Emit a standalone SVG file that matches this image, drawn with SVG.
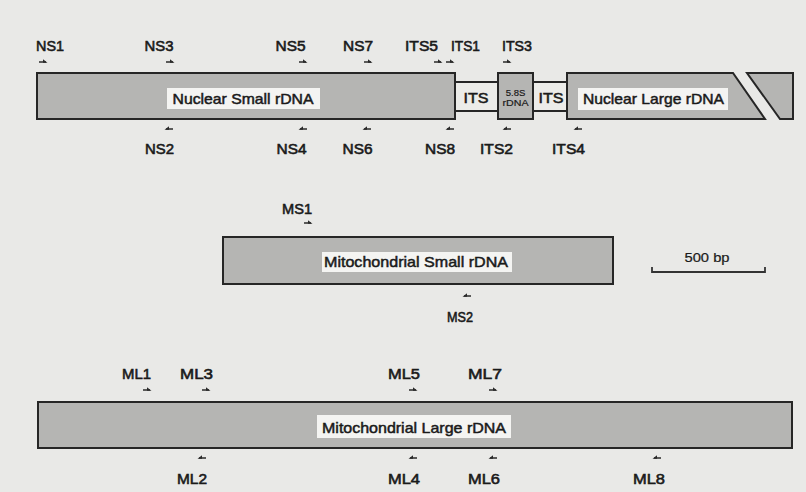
<svg xmlns="http://www.w3.org/2000/svg" width="806" height="492" viewBox="0 0 806 492">
  <defs>
    <style>
      .bg { fill: #e9e9e7; }
      .box { fill: #b5b5b3; stroke: #262626; stroke-width: 2; }
      .strip { fill: #ecece9; stroke: #262626; stroke-width: 2; }
      .lblbg { fill: #f4f4f2; }
      .lbl { font-family: "Liberation Sans", Arial, sans-serif; font-size: 15px; fill: #1a1a1a; text-anchor: middle; stroke: #1a1a1a; stroke-width: 0.5; }
      .pr { font-family: "Liberation Sans", Arial, sans-serif; font-size: 15px; fill: #1a1a1a; text-anchor: middle; stroke: #1a1a1a; stroke-width: 0.6; }
      .small { font-family: "Liberation Sans", Arial, sans-serif; font-size: 9.5px; fill: #1a1a1a; text-anchor: middle; stroke: #1a1a1a; stroke-width: 0.2; }
      .arr { stroke: #2a2a2a; stroke-width: 1.5; fill: none; }
      .head { fill: #2a2a2a; }
      .scale { stroke: #333; stroke-width: 1.8; fill: none; }
    </style>
    <g id="fwd">
      <line class="arr" x1="-4" y1="0" x2="3" y2="0"/>
      <polygon class="head" points="0,-2.8 4.5,0.8 0,0.8"/>
    </g>
    <g id="rev">
      <line class="arr" x1="-3" y1="0" x2="4" y2="0"/>
      <polygon class="head" points="0,-2.8 -4.5,0.8 0,0.8"/>
    </g>
  </defs>

  <rect class="bg" x="0" y="0" width="806" height="492"/>

  <!-- Nuclear rDNA -->
  <g id="nuclear-small">
    <rect class="box" x="37" y="73" width="418" height="46"/>
    <rect class="lblbg" x="167" y="88" width="153" height="21"/>
    <text class="lbl" x="243" y="103.5" textLength="141" lengthAdjust="spacingAndGlyphs">Nuclear Small rDNA</text>
  </g>
  <g id="its-1">
    <rect class="strip" x="455" y="82" width="43" height="29"/>
    <text class="lbl" x="476" y="102.5" style="font-size:14px" textLength="25" lengthAdjust="spacingAndGlyphs">ITS</text>
  </g>
  <g id="rdna-58s">
    <rect class="box" x="498" y="73" width="35" height="46"/>
    <text class="small" x="515.5" y="95.5">5.8S</text>
    <text class="small" x="515.5" y="105.5" textLength="26" lengthAdjust="spacingAndGlyphs">rDNA</text>
  </g>
  <g id="its-2">
    <rect class="strip" x="533" y="82" width="34" height="29"/>
    <text class="lbl" x="551" y="102.5" style="font-size:14px" textLength="25" lengthAdjust="spacingAndGlyphs">ITS</text>
  </g>
  <g id="nuclear-large">
    <polygon class="box" points="567,73 733,73 765,119 567,119"/>
    <polygon class="box" points="747,73 793,73 793,119 780,119"/>
    <rect class="lblbg" x="578" y="88" width="150" height="22"/>
    <text class="lbl" x="653.5" y="103.5" textLength="141" lengthAdjust="spacingAndGlyphs">Nuclear Large rDNA</text>
  </g>

  <!-- Mitochondrial small -->
  <g id="mito-small">
    <rect class="box" x="223" y="237" width="390" height="47"/>
    <rect class="lblbg" x="322" y="252" width="190" height="20"/>
    <text class="lbl" x="416" y="267" textLength="184" lengthAdjust="spacingAndGlyphs">Mitochondrial Small rDNA</text>
  </g>

  <!-- Mitochondrial large -->
  <g id="mito-large">
    <rect class="box" x="38" y="402" width="754" height="46"/>
    <rect class="lblbg" x="317" y="415" width="194" height="23"/>
    <text class="lbl" x="414" y="433" textLength="184" lengthAdjust="spacingAndGlyphs">Mitochondrial Large rDNA</text>
  </g>

  <!-- Scale bar -->
  <g id="scale-bar">
    <path class="scale" d="M652,267 V272 H765 V267"/>
    <text class="small" x="707" y="262" style="font-size:12px" textLength="45" lengthAdjust="spacingAndGlyphs">500 bp</text>
  </g>

  <!-- Primer arrows -->
  <g id="connectors">
    <use href="#fwd" x="43" y="62"/>
    <use href="#fwd" x="170" y="62"/>
    <use href="#fwd" x="303" y="62"/>
    <use href="#fwd" x="368" y="62"/>
    <use href="#fwd" x="438" y="62"/>
    <use href="#fwd" x="450" y="62"/>
    <use href="#fwd" x="507" y="62"/>
    <use href="#rev" x="169" y="129"/>
    <use href="#rev" x="303" y="129"/>
    <use href="#rev" x="367" y="129"/>
    <use href="#rev" x="450" y="129"/>
    <use href="#rev" x="507" y="129"/>
    <use href="#rev" x="578" y="129"/>
    <use href="#fwd" x="308" y="223"/>
    <use href="#rev" x="467" y="296"/>
    <use href="#fwd" x="147" y="390"/>
    <use href="#fwd" x="206" y="390"/>
    <use href="#fwd" x="413" y="390"/>
    <use href="#fwd" x="493" y="390"/>
    <use href="#rev" x="202" y="458"/>
    <use href="#rev" x="413" y="458"/>
    <use href="#rev" x="493" y="458"/>
    <use href="#rev" x="657" y="458"/>
  </g>

  <!-- Primer labels -->
  <g id="primer-labels">
    <text class="pr" x="50" y="50.5" textLength="28" lengthAdjust="spacingAndGlyphs">NS1</text>
    <text class="pr" x="159" y="50.5" textLength="29" lengthAdjust="spacingAndGlyphs">NS3</text>
    <text class="pr" x="290.5" y="50.5" textLength="30" lengthAdjust="spacingAndGlyphs">NS5</text>
    <text class="pr" x="358" y="50.5" textLength="30" lengthAdjust="spacingAndGlyphs">NS7</text>
    <text class="pr" x="421.5" y="50.5" textLength="33" lengthAdjust="spacingAndGlyphs">ITS5</text>
    <text class="pr" x="465.5" y="50.5" textLength="29" lengthAdjust="spacingAndGlyphs">ITS1</text>
    <text class="pr" x="517" y="50.5" textLength="30" lengthAdjust="spacingAndGlyphs">ITS3</text>
    <text class="pr" x="159.5" y="153.5" textLength="29" lengthAdjust="spacingAndGlyphs">NS2</text>
    <text class="pr" x="291.5" y="153.5" textLength="30" lengthAdjust="spacingAndGlyphs">NS4</text>
    <text class="pr" x="357.5" y="153.5" textLength="30" lengthAdjust="spacingAndGlyphs">NS6</text>
    <text class="pr" x="440" y="153.5" textLength="30" lengthAdjust="spacingAndGlyphs">NS8</text>
    <text class="pr" x="496.5" y="153.5" textLength="33" lengthAdjust="spacingAndGlyphs">ITS2</text>
    <text class="pr" x="568.5" y="153.5" textLength="33" lengthAdjust="spacingAndGlyphs">ITS4</text>
    <text class="pr" x="297" y="213.5" textLength="30" lengthAdjust="spacingAndGlyphs">MS1</text>
    <text class="pr" x="460" y="321.5" textLength="26" lengthAdjust="spacingAndGlyphs">MS2</text>
    <text class="pr" x="136.5" y="378.5" textLength="29" lengthAdjust="spacingAndGlyphs">ML1</text>
    <text class="pr" x="196.5" y="378.5" textLength="33" lengthAdjust="spacingAndGlyphs">ML3</text>
    <text class="pr" x="404" y="378.5" textLength="32" lengthAdjust="spacingAndGlyphs">ML5</text>
    <text class="pr" x="485" y="378.5" textLength="34" lengthAdjust="spacingAndGlyphs">ML7</text>
    <text class="pr" x="192" y="483.5" textLength="30" lengthAdjust="spacingAndGlyphs">ML2</text>
    <text class="pr" x="404" y="483.5" textLength="32" lengthAdjust="spacingAndGlyphs">ML4</text>
    <text class="pr" x="484" y="483.5" textLength="32" lengthAdjust="spacingAndGlyphs">ML6</text>
    <text class="pr" x="649" y="483.5" textLength="32" lengthAdjust="spacingAndGlyphs">ML8</text>
  </g>
</svg>
